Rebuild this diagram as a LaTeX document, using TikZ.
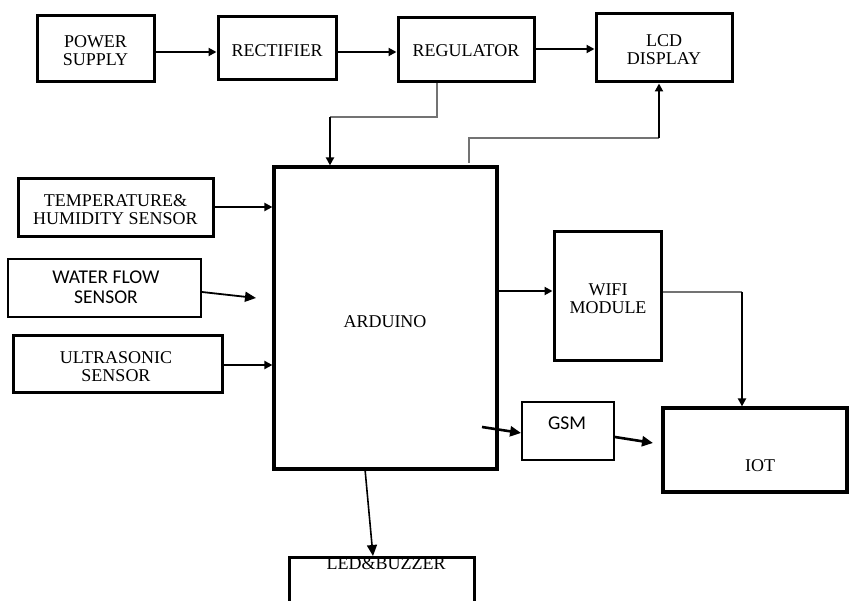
\documentclass[tikz,border=0pt]{standalone}
\usepackage{fontspec}
\setmainfont{Liberation Serif}
\newfontfamily\calfont{Carlito}
\usetikzlibrary{arrows.meta,calc}
\begin{document}
\begin{tikzpicture}[x=1pt,y=-1pt,
  box/.style={draw=black,line width=3pt,inner sep=0pt},
  thinbox/.style={draw=black,line width=1.8pt,inner sep=0pt},
  arr/.style={draw=black,line width=2.2pt,-{Triangle[length=8pt,width=8pt]}},
  bigarr/.style={draw=black,line width=2.6pt,-{Triangle[length=11pt,width=10pt]}},
  gl/.style={draw=black!55,line width=1.4pt},
  lbl/.style={inner sep=0pt,align=center,font=\fontsize{18}{18}\selectfont},
  slbl/.style={inner sep=0pt,align=center,font=\calfont\fontsize{19.5}{19.5}\selectfont}]
\useasboundingbox (0,0) rectangle (849,601);
% boxes
\node[box,minimum width=117pt,minimum height=66pt] (ps) at (95.5,49) {};
\node[lbl] at (95.5,51) {POWER\\SUPPLY};
\node[box,minimum width=118pt,minimum height=63pt] (rect) at (277,48.5) {};
\node[lbl] at (277,51) {RECTIFIER};
\node[box,minimum width=136pt,minimum height=64pt] (reg) at (466,50) {};
\node[lbl] at (466,51) {REGULATOR};
\node[box,minimum width=136pt,minimum height=68pt] (lcd) at (664,48) {};
\node[lbl] at (664,49.5) {LCD\\DISPLAY};
\node[box,minimum width=195pt,minimum height=58pt] (temp) at (115.5,208) {};
\node[lbl] at (115.5,210) {TEMPERATURE\&\\HUMIDITY SENSOR};
\node[thinbox,minimum width=193pt,minimum height=58pt] (water) at (104.5,288) {};
\node[slbl] at (106,287) {WATER FLOW\\SENSOR};
\node[box,minimum width=209pt,minimum height=57pt] (ultra) at (117.5,364.5) {};
\node[lbl] at (116,367) {ULTRASONIC\\SENSOR};
\node[box,line width=3.2pt,minimum width=223pt,minimum height=302pt] (ard) at (385.5,318) {};
\node[lbl] at (385,322) {ARDUINO};
\node[box,minimum width=107pt,minimum height=129pt] (wifi) at (607.5,296.5) {};
\node[lbl] at (608,299) {WIFI\\MODULE};
\node[thinbox,minimum width=92pt,minimum height=58pt] (gsm) at (568,431) {};
\node[slbl] at (567,423) {GSM};
\node[box,line width=3.2pt,minimum width=184pt,minimum height=84pt] (iot) at (755,450) {};
\node[lbl] at (760,466) {IOT};
\node[box,minimum width=185pt,minimum height=80pt] (led) at (381.5,597) {};
\node[lbl] at (386,564) {LED\&BUZZER};
% connectors
\draw[arr] (ps.east |- 0,52) -- (rect.west |- 0,52);
\draw[arr] (rect.east |- 0,52) -- (reg.west |- 0,52);
\draw[arr] (reg.east |- 0,49) -- (lcd.west |- 0,49);
\coordinate (r1) at (437,117);
\coordinate (r2) at (330,117);
\draw[gl] (reg.south -| r1) -- (r1) -- (r2);
\draw[arr] (r2) -- (r2 |- ard.north);
\coordinate (a0) at (469,163);
\coordinate (a1) at (469,138);
\coordinate (a2) at (659,138);
\draw[gl] (a0) -- (a1) -- (a2);
\draw[arr] (a2) -- (a2 |- lcd.south);
\draw[arr] (temp.east |- 0,207) -- (ard.west |- 0,207);
\coordinate (wf) at (256,298);
\draw[bigarr,line width=1.8pt] (water.east |- 0,292) -- (wf);
\draw[arr] (ultra.east |- 0,365) -- (ard.west |- 0,365);
\draw[arr] (ard.east |- 0,291) -- (wifi.west |- 0,291);
\coordinate (w1) at (742,292);
\draw[gl] (wifi.east |- w1) -- (w1);
\draw[arr] (w1) -- (w1 |- iot.north);
\coordinate (g0) at (482,427);
\draw[bigarr] (g0) -- (gsm.west |- 0,433);
\coordinate (g1) at (653,443);
\draw[bigarr] (gsm.east |- 0,437) -- (g1);
\coordinate (l0) at (365,469);
\draw[arr,line width=1.6pt,-{Triangle[length=11pt,width=10pt]}] (l0) -- (373,556);
\end{tikzpicture}
\end{document}
